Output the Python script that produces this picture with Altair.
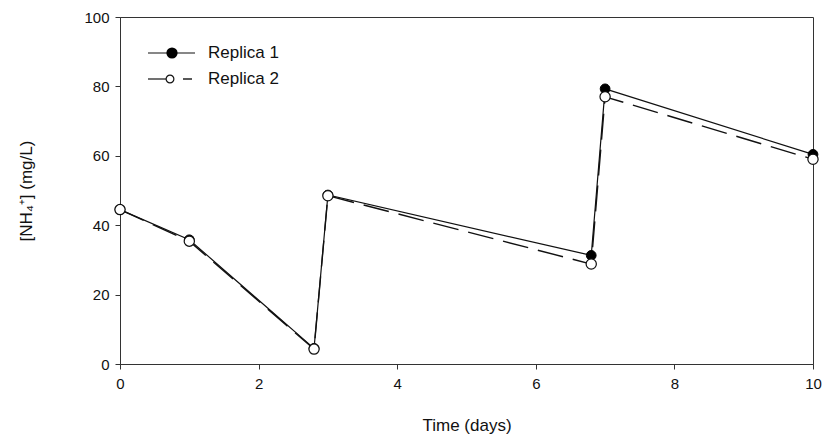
import altair as alt
import pandas as pd

# Sampling times (days) and ammonium concentrations (mg/L) for both replicas
time_days = [0, 1, 2.8, 3, 6.8, 7, 10]
replica_1 = [44.5, 35.8, 4.5, 48.7, 31.3, 79.3, 60.4]
replica_2 = [44.5, 35.4, 4.3, 48.5, 28.8, 77.0, 59.0]

x_ticks = [0, 2, 4, 6, 8, 10]
y_ticks = [0, 20, 40, 60, 80, 100]

FONT = "Liberation Sans"

df = pd.DataFrame(
    [{"t": t, "v": v, "rep": "Replica 1"} for t, v in zip(time_days, replica_1)]
    + [{"t": t, "v": v, "rep": "Replica 2"} for t, v in zip(time_days, replica_2)]
)

x_enc = alt.X(
    "t:Q",
    scale=alt.Scale(domain=[0, 10], nice=False, zero=False),
    axis=alt.Axis(
        title="Time (days)", values=x_ticks, grid=False, format="d", labelFlush=False,
        titleFontSize=17, titleFont=FONT, titleFontWeight="normal",
        titleColor="#111", titlePadding=26,
        labelFontSize=15, labelFont=FONT, labelColor="#111", labelPadding=7,
        tickSize=5, tickColor="#333", domainColor="#333",
    ),
)
y_enc = alt.Y(
    "v:Q",
    scale=alt.Scale(domain=[0, 100], nice=False),
    axis=alt.Axis(
        title="[NH₄⁺] (mg/L)", values=y_ticks, grid=False, labelFlush=False,
        titleFontSize=17, titleFont=FONT, titleFontWeight="normal",
        titleColor="#111", titlePadding=48,
        labelFontSize=15, labelFont=FONT, labelColor="#111", labelPadding=6,
        tickSize=5, tickColor="#333", domainColor="#333",
    ),
)

r1 = df[df.rep == "Replica 1"]
r2 = df[df.rep == "Replica 2"]

line1 = alt.Chart(r1).mark_line(color="#111", strokeWidth=1.2).encode(x=x_enc, y=y_enc)
line2 = alt.Chart(r2).mark_line(color="#111", strokeWidth=1.4, strokeDash=[26, 10]).encode(x=x_enc, y=y_enc)
pts1 = alt.Chart(r1).mark_point(
    shape="circle", filled=True, fill="#000", stroke="#000", strokeWidth=1, size=95, opacity=1
).encode(x=x_enc, y=y_enc)
pts2 = alt.Chart(r2).mark_point(
    shape="circle", filled=True, fill="#fff", stroke="#111", strokeWidth=1.2, size=105, opacity=1
).encode(x=x_enc, y=y_enc)

# Legend drawn inside the plot, top-left
leg_rule1 = alt.Chart(pd.DataFrame({"k": [0]})).mark_rule(color="#111", strokeWidth=1.2).encode(
    x=alt.value(28), x2=alt.value(75), y=alt.value(36)
)
leg_pt1 = alt.Chart(pd.DataFrame({"k": [0]})).mark_point(
    shape="circle", filled=True, fill="#000", stroke="#000", size=85, opacity=1
).encode(x=alt.value(52), y=alt.value(36))
leg_rule2a = alt.Chart(pd.DataFrame({"k": [0]})).mark_rule(color="#111", strokeWidth=1.2).encode(
    x=alt.value(28), x2=alt.value(46), y=alt.value(62)
)
leg_rule2b = alt.Chart(pd.DataFrame({"k": [0]})).mark_rule(color="#111", strokeWidth=1.4).encode(
    x=alt.value(63), x2=alt.value(72), y=alt.value(62)
)
leg_pt2 = alt.Chart(pd.DataFrame({"k": [0]})).mark_point(
    shape="circle", filled=True, fill="#fff", stroke="#111", strokeWidth=1.2, size=60, opacity=1
).encode(x=alt.value(50), y=alt.value(62))
leg_text = alt.Chart(pd.DataFrame({"label": ["Replica 1", "Replica 2"], "yy": [36, 62]})).mark_text(
    align="left", baseline="middle", font=FONT, fontSize=17, color="#111"
).encode(x=alt.value(88), y=alt.Y("yy:Q", scale=None), text="label:N")

chart = (
    alt.layer(line1, line2, pts1, pts2, leg_rule1, leg_pt1, leg_rule2a, leg_rule2b, leg_pt2, leg_text)
    .properties(
        width=693, height=347,
        autosize=alt.AutoSizeParams(type="none"),
        padding={"left": 120, "top": 17, "right": 11, "bottom": 73},
        background="white",
    )
    .configure_view(stroke="#333", strokeWidth=1)
)

chart.save("out.html", embed_options={"renderer": "svg", "actions": False})
